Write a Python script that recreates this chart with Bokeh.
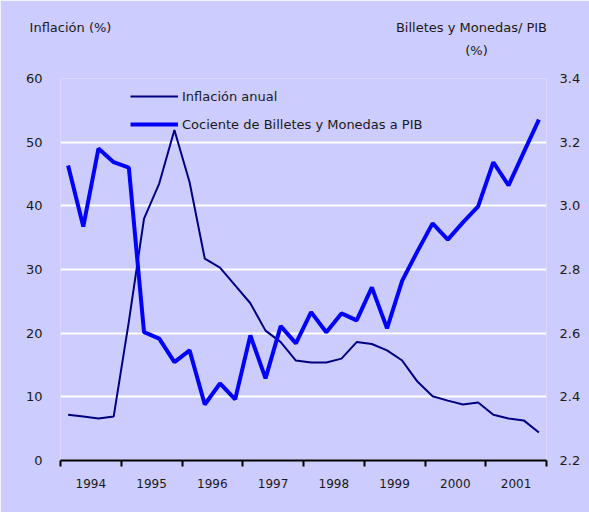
from bokeh.plotting import figure
from bokeh.models import (Range1d, LinearAxis, FixedTicker, Legend, LegendItem)
from bokeh.embed import file_html
from bokeh.resources import INLINE

# ---- data (quarterly, 1994Q1 .. 2001Q4) ----
years = [1994, 1995, 1996, 1997, 1998, 1999, 2000, 2001]
quarters = [y + (q - 0.5) / 4 for y in years for q in range(1, 5)]
inflacion = [7.2, 6.9, 6.6, 6.9, 21.8, 38.0, 43.5, 51.9,
             43.7, 31.7, 30.3, 27.5, 24.7, 20.4, 18.6, 15.7,
             15.4, 15.4, 16.0, 18.6, 18.3, 17.3, 15.7, 12.4,
             10.1, 9.4, 8.8, 9.1, 7.2, 6.6, 6.3, 4.4]
cociente = [3.127, 2.935, 3.180, 3.137, 3.120, 2.603, 2.583, 2.509,
            2.546, 2.376, 2.442, 2.392, 2.593, 2.458, 2.622, 2.568,
            2.666, 2.603, 2.662, 2.640, 2.744, 2.615, 2.765, 2.857,
            2.945, 2.894, 2.948, 2.998, 3.137, 3.064, 3.168, 3.271]
left_ticks = [0, 10, 20, 30, 40, 50, 60]
right_ticks = [2.2, 2.4, 2.6, 2.8, 3.0, 3.2, 3.4]
right_labels = ["2.2", "2.4", "2.6", "2.8", "3.0", "3.2", "3.4"]
year_labels = [str(y) for y in years]
left_title = "Inflación (%)"
right_title = ["Billetes y Monedas/ PIB", "(%)"]

FONT = "DejaVu Sans"
TXT = "#1a1a1a"
BG = "#CCCCFF"

p = figure(width=589, height=512, output_backend="svg", toolbar_location=None,
           x_range=Range1d(1994, 2002), y_range=Range1d(0, 60),
           min_border_left=60, min_border_right=43, min_border_top=78,
           min_border_bottom=52)
p.background_fill_color = BG
p.border_fill_color = BG
p.outline_line_color = None
p.extra_y_ranges = {"right": Range1d(2.2, 3.4)}
# pixel-like range across the frame, used only to place the axis titles
p.extra_x_ranges = {"px": Range1d(60, 546)}

# grid
p.xgrid.grid_line_color = None
p.ygrid.grid_line_color = "white"
p.ygrid.grid_line_width = 2


def plain(axis, size="13px"):
    axis.axis_line_color = None
    axis.major_tick_line_color = None
    axis.minor_tick_line_color = None
    axis.major_tick_out = 0
    axis.major_tick_in = 0
    axis.major_label_text_font = FONT
    axis.major_label_text_font_size = size
    axis.major_label_text_color = TXT


# x axis: year labels between tick marks
xa = p.xaxis[0]
plain(xa, "12px")
xa.ticker = FixedTicker(ticks=[y + 0.5 for y in years],
                        minor_ticks=list(range(1994, 2003)))
xa.major_label_overrides = {y + 0.5: s for y, s in zip(years, year_labels)}
xa.minor_tick_line_color = "black"
xa.minor_tick_line_width = 2
xa.minor_tick_out = 6
xa.minor_tick_in = 0
xa.axis_line_color = "black"
xa.axis_line_width = 2
xa.major_label_standoff = 12

# left axis
ya = p.yaxis[0]
plain(ya)
ya.ticker = FixedTicker(ticks=left_ticks)
ya.major_label_standoff = 18

# right axis
ra = LinearAxis(y_range_name="right", ticker=FixedTicker(ticks=right_ticks))
plain(ra)
ra.major_label_overrides = {t: s for t, s in zip(right_ticks, right_labels)}
ra.major_label_standoff = 13
p.add_layout(ra, "right")

# axis titles as label rows above the frame
tb = LinearAxis(x_range_name="px", ticker=FixedTicker(ticks=[476]))
plain(tb)
tb.major_label_overrides = {476: right_title[1]}
tb.major_label_standoff = 21
p.add_layout(tb, "above")

ta = LinearAxis(x_range_name="px", ticker=FixedTicker(ticks=[70, 471]))
plain(ta)
ta.major_label_overrides = {70: left_title, 471: right_title[0]}
ta.major_label_standoff = 5
p.add_layout(ta, "above")

# series
r_inf = p.line(quarters, inflacion, line_color="#000080", line_width=2)
r_coc = p.line(quarters, cociente, line_color="#0000FF", line_width=4,
               y_range_name="right")

legend = Legend(items=[LegendItem(label="Inflación anual", renderers=[r_inf]),
                       LegendItem(label="Cociente de Billetes y Monedas a PIB",
                                  renderers=[r_coc])],
                location=(70, 326))
legend.background_fill_alpha = 0
legend.border_line_alpha = 0
legend.padding = 0
legend.margin = 0
legend.spacing = 8
legend.glyph_width = 48
legend.glyph_height = 20
legend.label_height = 20
legend.label_standoff = 4
legend.label_text_font = FONT
legend.label_text_font_size = "13px"
legend.label_text_color = TXT
p.add_layout(legend, "center")

open("out.html", "w").write(file_html(p, INLINE))
